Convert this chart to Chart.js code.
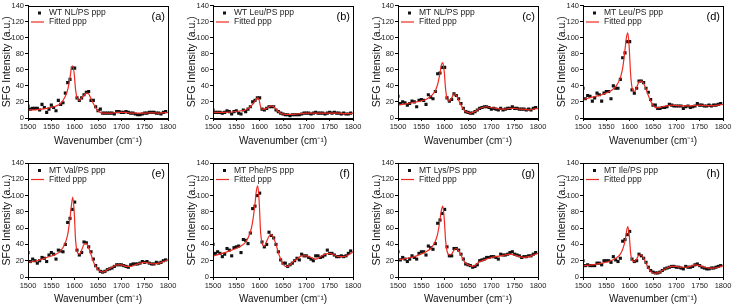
<!DOCTYPE html>
<html>
<head>
<meta charset="utf-8">
<script src="https://cdn.jsdelivr.net/npm/chart.js@4.4.0/dist/chart.umd.min.js"></script>
<style>
  html, body { margin: 0; padding: 0; background: #fff; }
  #wrap { position: relative; width: 738px; height: 306px; overflow: hidden; }
  .panel { position: absolute; width: 185px; height: 153px; }
</style>
</head>
<body>
<div id="wrap"></div>
<script>
// wavenumber of each measured point (cm-1)
const wn = [1500,1505,1510,1515,1520,1525,1530,1535,1540,1545,
            1550,1555,1560,1565,1570,1575,1580,1585,1590,1595,
            1600,1605,1610,1615,1620,1625,1630,1635,1640,1645,
            1650,1655,1660,1665,1670,1675,1680,1685,1690,1695,
            1700,1705,1710,1715,1720,1725,1730,1735,1740,1745,
            1750,1755,1760,1765,1770,1775,1780,1785,1790,1795];

// x positions of the fitted curve (denser round the amide peaks)
const fitX = [1500,1520,1540,1560,1570,1580,1585,1590,1593,1596,1599,1602,1605,
              1610,1615,1620,1625,1630,1635,1640,1645,1650,1655,1660,1665,1670,
              1680,1690,1700,1710,1720,1730,1740,1750,1760,1770,1780,1790,1800];

const dataA = [15,11,12,12,12,10,17,13,7,11, 16,13,9,22,17,19,31,44,48,62,
               62,25,22,25,29,32,33,22,22,14, 9,11,6,6,6,6,6,5,8,8,
               7,7,8,7,6,6,5,4,4,5, 6,6,7,7,7,6,6,5,7,8];
const dataB = [10,7,7,7,6,7,9,8,5,8, 9,6,5,10,8,11,14,20,22,25,
               25,11,10,12,14,14,14,10,8,6, 5,4,4,3,4,4,4,4,5,6,
               6,6,5,6,7,6,6,6,5,6, 7,6,7,6,6,5,6,5,5,6];
const dataC = [27,18,20,19,16,18,21,20,14,22, 23,22,17,29,26,24,33,55,56,63,
               63,25,21,23,30,28,24,18,12,8, 7,6,6,8,10,12,13,14,14,13,
               11,12,11,10,12,10,11,12,12,14, 12,12,11,11,11,10,11,10,12,13];
const dataD = [37,24,28,27,21,25,31,29,21,31, 33,33,24,40,37,37,48,75,81,95,
               95,35,31,37,46,46,44,37,32,23, 16,16,12,12,13,13,14,17,16,15,
               15,15,15,12,14,15,13,14,15,18, 16,16,15,15,16,15,16,16,17,18];
const dataE = [30,19,22,20,17,20,24,23,19,27, 30,28,22,33,32,31,40,67,72,83,
               92,33,27,30,43,42,37,31,22,14, 10,7,6,7,9,10,11,13,15,15,
               15,14,13,12,15,16,16,16,17,19, 18,19,17,16,16,18,17,18,20,21];
const dataF = [40,29,31,29,25,28,35,33,26,36, 37,38,30,46,45,41,54,84,87,100,
               103,43,37,40,55,51,48,40,31,21, 17,17,13,15,17,20,23,21,28,26,
               26,24,22,20,26,26,24,25,27,33, 29,29,27,25,25,26,25,26,29,32];
const dataG = [31,21,24,22,19,22,26,24,22,29, 31,31,27,38,36,34,41,66,70,78,
               83,37,26,26,35,35,33,28,22,16, 15,14,12,13,15,20,21,22,24,24,
               25,25,24,22,28,27,27,28,30,31, 28,27,26,24,25,25,26,26,28,30];
const dataH = [20,14,15,14,14,14,17,17,15,20, 20,20,18,25,21,19,23,44,46,52,
               56,22,19,20,28,26,23,18,12,8, 6,5,5,6,8,10,11,12,13,13,
               12,12,11,10,13,12,12,13,15,16, 14,12,11,10,10,11,11,12,13,14];

const fitA = [10,10.5,12,15,18,27,35,50,62,65,55,35,25, 22,25,28,31,30,24,18,13,9,7,6,6,6,
              6,7,7,7,6,6,6,6,6.5,6.5,6,6.5,7];
const fitB = [7,7,7.5,9,10,14,17,21,24,25,22,14,11, 11,12,14,15,14,11,8,6,5,4.5,4.5,4.5,4.5,
              5,5.5,6,6,6,6,6,6,6,6,5.5,5.5,6];
const fitC = [16,18,20,23,27,34,42,56,66,69,58,36,24, 21,25,30,28,22,16,11,8,7,6,7,8,10,
              13,14,13,12,11,11,12,12,11,11,10,11,12];
const fitD = [23,26,29,34,39,50,62,85,100,106,88,55,38, 33,38,45,46,43,36,28,21,16,13,13,13,14,
              15,16,15.5,15,15,15,15.5,16,15.5,15.5,15.5,16,17];
const fitE = [18,20,24,28,32,42,52,72,88,98,80,45,32, 28,33,40,41,36,28,19,13,9,7,6,7,9,
              12,15,15,13,13,15,17,18,17,16,17,19,21];
const fitF = [26,29,33,38,43,55,68,90,106,112,92,55,42, 38,44,50,52,48,40,30,22,16,13,13,15,18,
              22,26,26,24,22,25,28,29,27,25,25,27,31];
const fitG = [21,23,26,31,35,44,53,70,82,87,72,45,32, 27,28,33,35,32,27,21,17,15,14,13,14,17,
              20,22,24,25,26,27,28,27,25,24,25,27,29];
const fitH = [14,15,17,20,23,28,34,44,55,62,52,30,21, 19,22,27,27,23,17,11,7,5,4.5,5,6,8,
              11,13,13,12,12,13,15,14,12,11,11,12,14];

const seriesNames = ['WT NL/PS ppp','WT Leu/PS ppp','MT NL/PS ppp','MT Leu/PS ppp',
                     'MT Val/PS ppp','MT Phe/PS ppp','MT Lys/PS ppp','MT Ile/PS ppp'];
const panelTags = ['(a)','(b)','(c)','(d)','(e)','(f)','(g)','(h)'];
const xTicks = [1500,1550,1600,1650,1700,1750,1800];
const yTicks = [0,20,40,60,80,100,120,140];

const allData = [dataA,dataB,dataC,dataD,dataE,dataF,dataG,dataH];
const allFits = [fitA,fitB,fitC,fitD,fitE,fitF,fitG,fitH];

const FONT = "'Liberation Sans', Arial, sans-serif";
const RED = '#ee2b22';

// box around the plot + in-plot legend + panel letter
const decorPlugin = {
  id: 'decor',
  afterDraw(chart, args, opts) {
    const {ctx, chartArea: a} = chart;
    ctx.save();
    ctx.strokeStyle = '#000';
    ctx.lineWidth = 1;
    ctx.strokeRect(Math.round(a.left) + 0.5, Math.round(a.top) + 0.5,
                   Math.round(a.right - a.left), Math.round(a.bottom - a.top));

    // legend
    ctx.fillStyle = '#111';
    ctx.fillRect(a.left + 10, a.top + 6, 3, 3);
    ctx.strokeStyle = RED;
    ctx.lineWidth = 1.2;
    ctx.beginPath();
    ctx.moveTo(a.left + 3, a.top + 16.5);
    ctx.lineTo(a.left + 16, a.top + 16.5);
    ctx.stroke();
    ctx.font = '8.5px ' + FONT;
    ctx.textBaseline = 'middle';
    ctx.fillStyle = '#222';
    ctx.fillText(opts.name, a.left + 21, a.top + 7.5);
    ctx.fillText('Fitted ppp', a.left + 21, a.top + 16.5);

    // panel letter
    ctx.font = '11px ' + FONT;
    ctx.textAlign = 'right';
    ctx.fillStyle = '#000';
    ctx.fillText(opts.tag, a.right - 3, a.top + 11);
    ctx.restore();
  }
};

const wrap = document.getElementById('wrap');

allData.forEach((pts, i) => {
  const row = Math.floor(i / 4), col = i % 4;
  const div = document.createElement('div');
  div.className = 'panel';
  div.style.left = (col * 185) + 'px';
  div.style.top = (row * 153) + 'px';
  const canvas = document.createElement('canvas');
  canvas.width = 185;
  canvas.height = 153;
  div.appendChild(canvas);
  wrap.appendChild(div);

  const padTop = row === 0 ? 5 : 10;
  const xAxisH = row === 0 ? 35 : 29;
  const xTitlePad = row === 0 ? 6 : 1;

  new Chart(canvas, {
    type: 'scatter',
    data: {
      datasets: [
        {
          type: 'line',
          label: 'Fitted ppp',
          data: fitX.map((x, k) => ({x: x, y: allFits[i][k]})),
          borderColor: RED,
          borderWidth: 1.2,
          pointRadius: 0,
          fill: false,
          cubicInterpolationMode: 'monotone'
        },
        {
          label: seriesNames[i],
          data: wn.map((x, k) => ({x: x, y: pts[k]})),
          pointStyle: 'rect',
          pointRadius: 2.2,
          backgroundColor: '#111',
          borderColor: '#111',
          borderWidth: 0
        }
      ]
    },
    options: {
      responsive: false,
      animation: false,
      events: [],
      layout: {padding: {left: 0, right: 17, top: padTop, bottom: 0}},
      plugins: {
        legend: {display: false},
        tooltip: {enabled: false},
        decor: {name: seriesNames[i], tag: panelTags[i]}
      },
      scales: {
        x: {
          type: 'linear',
          min: 1500, max: 1800,
          afterBuildTicks: s => { s.ticks = xTicks.map(v => ({value: v})); },
          afterFit: s => { s.height = xAxisH; },
          grid: {drawOnChartArea: false, drawTicks: true, tickLength: 3, color: '#000'},
          border: {display: true, color: '#000'},
          ticks: {autoSkip: false, maxRotation: 0, padding: 1, color: '#222',
                  callback: v => String(v),
                  font: {family: FONT, size: 7.5}},
          title: {display: true, text: 'Wavenumber (cm\u207B\u00B9)', color: '#111',
                  padding: {top: 0, bottom: xTitlePad}, font: {family: FONT, size: 10}}
        },
        y: {
          min: 0, max: 140,
          afterBuildTicks: s => { s.ticks = yTicks.map(v => ({value: v})); },
          afterFit: s => { s.width = 28; },
          grid: {drawOnChartArea: false, drawTicks: true, tickLength: 3, color: '#000'},
          border: {display: true, color: '#000'},
          ticks: {padding: 1, color: '#222', callback: v => String(v),
                  font: {family: FONT, size: 7.5}},
          title: {display: true, text: 'SFG Intensity (a.u.)', color: '#111',
                  padding: {top: 1, bottom: 0}, font: {family: FONT, size: 10.5}}
        }
      }
    },
    plugins: [decorPlugin]
  });
});
</script>
</body>
</html>
